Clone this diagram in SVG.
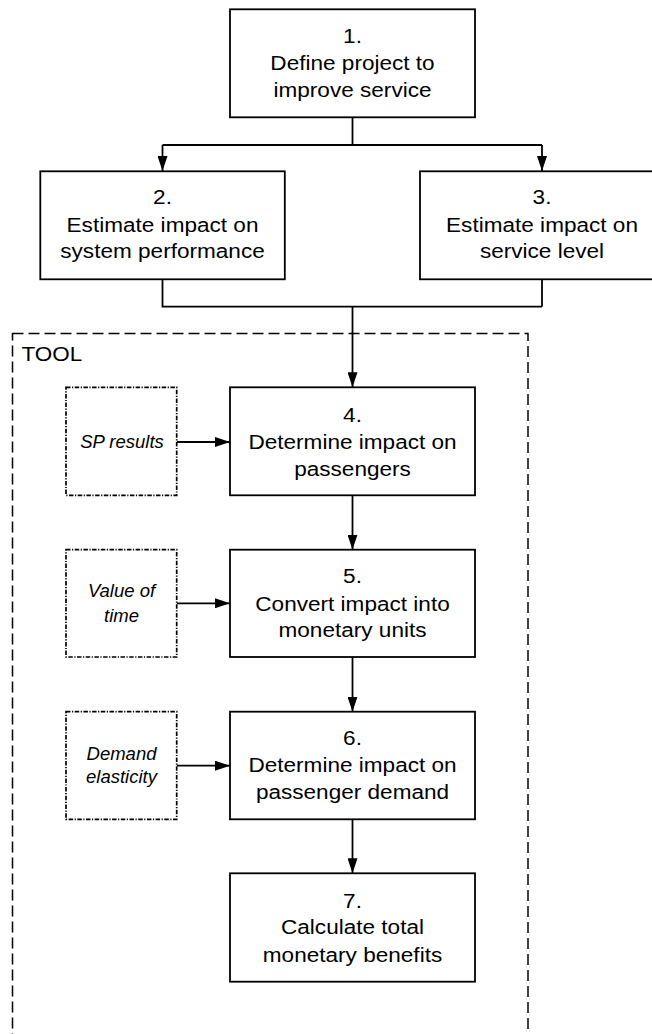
<svg xmlns="http://www.w3.org/2000/svg" width="652" height="1034" viewBox="0 0 652 1034">
<style>
.box{fill:#fff;stroke:#000;stroke-width:1.8}
.src{fill:#fff;stroke:#000;stroke-width:1.7;stroke-dasharray:4.5 1.5 1.2 1.5}
.tool{fill:none;stroke:#000;stroke-width:1.5;stroke-dasharray:11 5}
.t{font-family:"Liberation Sans",Arial,sans-serif;font-size:21px;text-anchor:middle;fill:#000}
.i{font-family:"Liberation Sans",Arial,sans-serif;font-size:18.5px;font-style:italic;text-anchor:middle;fill:#000}
.tl{font-family:"Liberation Sans",Arial,sans-serif;font-size:21px;fill:#000}
.c{fill:none;stroke:#000;stroke-width:1.8}
</style>
<defs>
<marker id="ah" markerUnits="userSpaceOnUse" markerWidth="16" markerHeight="10" refX="15" refY="5" orient="auto">
<path d="M0,0 L15,5 L0,10 z" fill="#000"/>
</marker>
</defs>
<g id="tool-frame">
<rect class="tool" x="12.5" y="333.5" width="515.5" height="720"/>
<text class="tl" transform="translate(21.5,0) scale(1.07,1)" x="0" y="360.7">TOOL</text>
</g>
<g id="connectors">
<path class="c" d="M352.5,117.3 V145 M162.5,145 H542"/>
<path class="c" d="M162.5,145 V171" marker-end="url(#ah)"/>
<path class="c" d="M542,145 V171" marker-end="url(#ah)"/>
<path class="c" d="M162.5,279.3 V306.7 H542 M542,279.3 V306.7"/>
<path class="c" d="M352.5,306.7 V387.3" marker-end="url(#ah)"/>
<path class="c" d="M352.5,495.3 V549.7" marker-end="url(#ah)"/>
<path class="c" d="M352.5,657 V711.7" marker-end="url(#ah)"/>
<path class="c" d="M352.5,819.3 V873.3" marker-end="url(#ah)"/>
<path class="c" d="M176.7,442 H230" marker-end="url(#ah)"/>
<path class="c" d="M176.7,603.3 H230" marker-end="url(#ah)"/>
<path class="c" d="M176.7,765.7 H230" marker-end="url(#ah)"/>
</g>
<g id="n1">
<rect class="box" x="230" y="9.3" width="245" height="108"/>
<text class="t" transform="translate(352.5,0) scale(1.075,1)"><tspan x="0" y="43.3">1.</tspan><tspan x="0" y="70.5">Define project to</tspan><tspan x="0" y="96.7">improve service</tspan></text>
</g>
<g id="n2">
<rect class="box" x="40.3" y="171.3" width="244.5" height="108"/>
<text class="t" transform="translate(162.5,0) scale(1.075,1)"><tspan x="0" y="204">2.</tspan><tspan x="0" y="231.6">Estimate impact on</tspan><tspan x="0" y="258.3">system performance</tspan></text>
</g>
<g id="n3">
<rect class="box" x="420" y="171.3" width="244.5" height="108"/>
<text class="t" transform="translate(542,0) scale(1.075,1)"><tspan x="0" y="204">3.</tspan><tspan x="0" y="231.6">Estimate impact on</tspan><tspan x="0" y="258.3">service level</tspan></text>
</g>
<g id="n4">
<rect class="box" x="230" y="387.3" width="245" height="108"/>
<text class="t" transform="translate(352.5,0) scale(1.075,1)"><tspan x="0" y="421.7">4.</tspan><tspan x="0" y="449.5">Determine impact on</tspan><tspan x="0" y="475.7">passengers</tspan></text>
</g>
<g id="n5">
<rect class="box" x="230" y="549.7" width="245" height="107.3"/>
<text class="t" transform="translate(352.5,0) scale(1.075,1)"><tspan x="0" y="583.3">5.</tspan><tspan x="0" y="611.2">Convert impact into</tspan><tspan x="0" y="636.7">monetary units</tspan></text>
</g>
<g id="n6">
<rect class="box" x="230" y="711.7" width="245" height="107.6"/>
<text class="t" transform="translate(352.5,0) scale(1.075,1)"><tspan x="0" y="745">6.</tspan><tspan x="0" y="771.7">Determine impact on</tspan><tspan x="0" y="799">passenger demand</tspan></text>
</g>
<g id="n7">
<rect class="box" x="230" y="873.3" width="245" height="108.4"/>
<text class="t" transform="translate(352.5,0) scale(1.075,1)"><tspan x="0" y="907.7">7.</tspan><tspan x="0" y="934.3">Calculate total</tspan><tspan x="0" y="961.7">monetary benefits</tspan></text>
</g>
<g id="sp-results">
<rect class="src" x="66" y="387.3" width="110.7" height="108"/>
<text class="i" x="122" y="447.7">SP results</text>
</g>
<g id="value-of-time">
<rect class="src" x="66" y="549.7" width="110.7" height="107.3"/>
<text class="i"><tspan x="121.5" y="597.3">Value of</tspan><tspan x="121.5" y="621.7">time</tspan></text>
</g>
<g id="demand-elasticity">
<rect class="src" x="66" y="711.7" width="110.7" height="107.6"/>
<text class="i"><tspan x="121.5" y="760">Demand</tspan><tspan x="121.5" y="783.3">elasticity</tspan></text>
</g>
</svg>
